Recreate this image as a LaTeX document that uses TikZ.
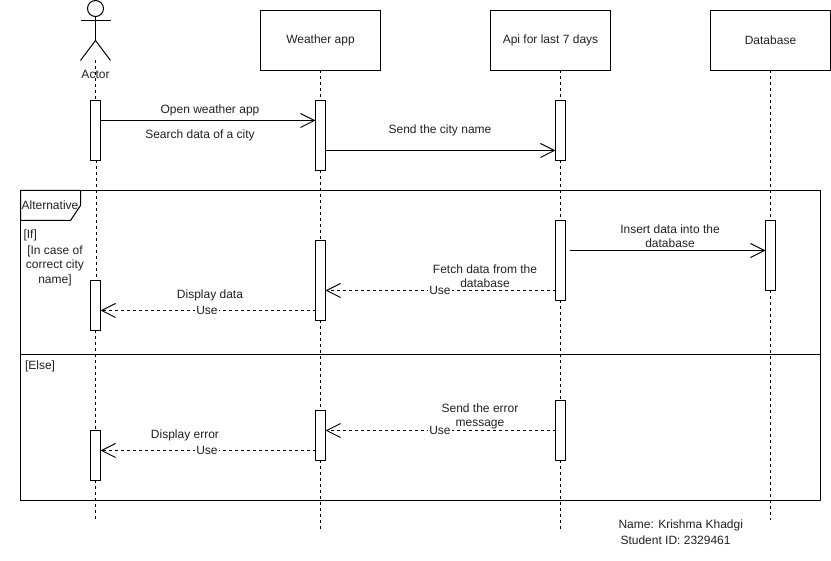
\documentclass[tikz,border=0pt]{standalone}
\usepackage{fontspec}
\setmainfont{Liberation Sans}
\usetikzlibrary{arrows.meta}
\definecolor{inkc}{HTML}{222222}
\tikzset{
  x=1pt,y=-1pt,
  every node/.style={font=\fontsize{12}{14.5}\selectfont,text=inkc,inner sep=0pt,outer sep=0pt},
  line/.style={draw=black,line width=1pt},
  headbox/.style={line,fill=white,minimum width=120pt,minimum height=60pt,anchor=north west},
  act/.style={line,fill=white,minimum width=10pt,anchor=north west},
  lifeline/.style={line,dash pattern=on 3pt off 3pt},
  msg/.style={line,-{Straight Barb[length=14pt,width=14pt,line width=1pt]}},
  ret/.style={msg,dash pattern=on 3pt off 3pt},
  lab/.style={align=center,yshift=-0.6pt},
  uselab/.style={fill=white,inner xsep=1pt,inner ysep=1pt},
  left lab/.style={align=left,anchor=west,yshift=-0.6pt},
}
\begin{document}
\begin{tikzpicture}
\useasboundingbox (0,0) rectangle (831,561);
\fill[white] (0,0) rectangle (831,561);

% Frame
\node[line,minimum width=800pt,minimum height=310pt,anchor=north west] (frame) at (20.5,190.5) {};
\coordinate (divL) at (20.5,354.5);
\coordinate (divR) at (820.5,354.5);
\draw[line] (divL) -- (divR);
\draw[line] (frame.north west) -- (80.5,190.5) -- (80.5,205.5) -- (70.5,220.5) -- (20.5,220.5) -- cycle;

% Lifeline heads
\node[headbox] (app) at (260.5,10.5) {Weather app};
\node[headbox] (api) at (490.5,10.5) {Api for last 7 days};
\node[headbox] (db) at (710.5,10.5) {Database};

% Activations
\node[act,minimum height=60pt] (a1) at (90.5,100.5) {};
\node[act,minimum height=50pt] (a2) at (90.5,280.5) {};
\node[act,minimum height=50pt] (a3) at (90.5,430.5) {};
\node[act,minimum height=70pt] (w1) at (315.5,100.5) {};
\node[act,minimum height=80pt] (w2) at (315.5,240.5) {};
\node[act,minimum height=50pt] (w3) at (315.5,410.5) {};
\node[act,minimum height=60pt] (p1) at (555.5,100.5) {};
\node[act,minimum height=80pt] (p2) at (555.5,220.5) {};
\node[act,minimum height=60pt] (p3) at (555.5,400.5) {};
\node[act,minimum height=70pt] (d1) at (765.5,220.5) {};

% Lifelines
\coordinate (actorTop) at (95.5,60.5);
\coordinate (actorEnd) at (95.5,520.5);
\coordinate (appEnd) at (320.5,530.5);
\coordinate (apiEnd) at (560.5,530.5);
\coordinate (dbEnd) at (770.5,520.5);
\draw[lifeline] (actorTop) -- (a1.north);
\draw[lifeline] ([xshift=1pt]a1.south) -- ([xshift=1pt]a2.north);
\draw[lifeline] (a2.south) -- (a3.north);
\draw[lifeline] (a3.south) -- (actorEnd);
\draw[lifeline] (app.south) -- (w1.north);
\draw[lifeline] (w1.south) -- (w2.north);
\draw[lifeline] (w2.south) -- (w3.north);
\draw[lifeline] (w3.south) -- (appEnd);
\draw[lifeline] (p1.north |- api.south) -- (p1.north);
\draw[lifeline] (p1.south) -- (p2.north);
\draw[lifeline] (p2.south) -- (p3.north);
\draw[lifeline] (p3.south) -- (apiEnd);
\draw[lifeline] (db.south) -- (d1.north);
\draw[lifeline] (d1.south) -- (dbEnd);

% Actor
\node[line,circle,minimum size=16pt] (head) at (95.5,8.5) {};
\coordinate (hip) at (95.5,40.5);
\coordinate (armL) at (80.5,20.5);
\coordinate (armR) at (110.5,20.5);
\coordinate (legL) at (80.5,60.5);
\coordinate (legR) at (110.5,60.5);
\draw[line] (head.south) -- (hip);
\draw[line] (armL) -- (armR);
\draw[line] (legL) -- (hip) -- (legR);
\node[lab] (actorlab) at (95.5,73.5) {Actor};

% Messages
\draw[msg] ([yshift=-20pt]a1.north east) -- ([yshift=-20pt]w1.north west);
\draw[msg] ([yshift=-50pt]w1.north east) -- ([yshift=-50pt]p1.north west);
\draw[msg] ([xshift=4pt,yshift=-30pt]p2.north east) -- ([yshift=-30pt]d1.north west);
\draw[ret] ([yshift=-70pt]p2.north west) -- ([yshift=-50pt]w2.north east);
\draw[ret] ([yshift=-70pt]w2.north west) -- ([yshift=-30pt]a2.north east);
\draw[ret] ([yshift=-30pt]p3.north west) -- ([yshift=-20pt]w3.north east);
\draw[ret] ([yshift=-40pt]w3.north west) -- ([yshift=-20pt]a3.north east);

% Message labels
\node[lab] (m1) at (210,110) {Open weather app};
\node[lab] (m1b) at (200,134.5) {Search data of a city};
\node[lab] (m2) at (440,130) {Send the city name};
\node[lab] (m3) at (670,235.5) {Insert data into the\\database};
\node[uselab] (u1) at (440,290.5) {Use};
\node[lab] (m4) at (485,275.5) {Fetch data from the\\database};
\node[uselab] (u2) at (207,310.5) {Use};
\node[lab] (m5) at (210,295) {Display data};
\node[uselab] (u3) at (440,430.5) {Use};
\node[lab] (m6) at (480,416) {Send the error\\message};
\node[uselab] (u4) at (207,450.5) {Use};
\node[lab] (m7) at (185,435) {Display error};

% Frame labels
\node[lab] (alt) at (50,205) {Alternative};
\node[left lab] (iflab) at (23.5,235) {[If]};
\node[lab] (cond) at (55,265) {[In case of\\correct city\\name]};
\node[left lab] (elselab) at (25,365.5) {[Else]};

% Signature
\node[left lab] (sig1) at (618.5,524.5) {Name: Krishma Khadgi};
\node[left lab] (sig2) at (620.5,539.5) {Student ID: 2329461};
\end{tikzpicture}
\end{document}
